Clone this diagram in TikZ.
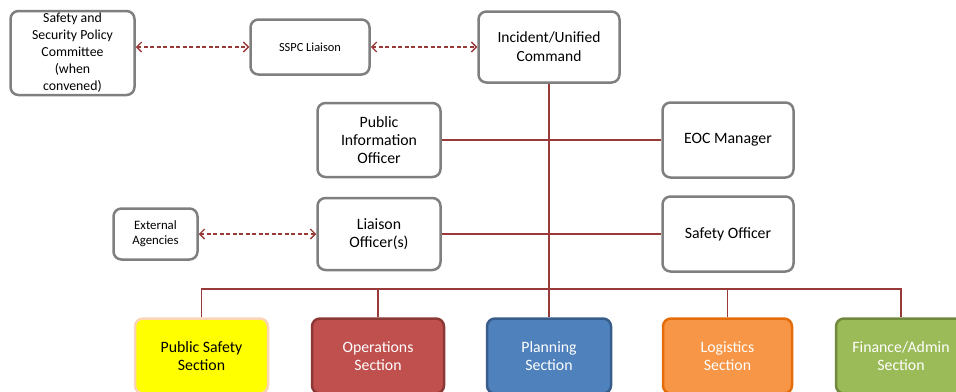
\documentclass[tikz,border=0pt]{standalone}
\usepackage{fontspec}
\setmainfont{Carlito}
\usetikzlibrary{arrows.meta}
\definecolor{boxgray}{HTML}{7F7F7F}
\definecolor{linered}{HTML}{983A38}
\definecolor{psfill}{HTML}{FFFF00}
\definecolor{psdraw}{HTML}{FBD5B5}
\definecolor{opfill}{HTML}{C0504D}
\definecolor{opdraw}{HTML}{8C3836}
\definecolor{plfill}{HTML}{4F81BD}
\definecolor{pldraw}{HTML}{385D8A}
\definecolor{lgfill}{HTML}{F79646}
\definecolor{lgdraw}{HTML}{E46C0A}
\definecolor{fnfill}{HTML}{9BBB59}
\definecolor{fndraw}{HTML}{71893F}
\begin{document}
\begin{tikzpicture}[x=1pt,y=-1pt,
  box/.style={draw=boxgray,line width=2.5pt,rounded corners=8pt,fill=white,align=center,inner sep=0pt,text=black},
  bigtext/.style={font=\fontsize{15.8}{18.5}\selectfont},
  section/.style={box,bigtext,minimum height=75pt,text=white},
  link/.style={draw=linered,line width=1.3pt},
  dlink/.style={link,line width=1.4pt,dash pattern=on 4pt off 2.5pt,{Straight Barb[length=5pt,width=10pt]}-{Straight Barb[length=5pt,width=10pt]}},
]
\useasboundingbox (0,0) rectangle (956,391);

% top row
\node[box,minimum width=124pt,minimum height=84pt,font=\fontsize{13.8}{17}\selectfont] (ssp) at (72.5,53) {Safety and\\Security Policy\\Committee\\(when\\convened)};
\node[box,minimum width=119pt,minimum height=55pt,font=\fontsize{12.4}{14}\selectfont] (sspcl) at (310,47) {SSPC Liaison};
\node[box,minimum width=141pt,minimum height=71pt,font=\fontsize{15.5}{19}\selectfont] (inc) at (549,47) {Incident/Unified\\Command};

% staff
\node[box,bigtext,minimum width=123pt,minimum height=74pt,font=\fontsize{15.8}{18}\selectfont] (pio) at (379,140) {Public\\Information\\Officer};
\node[box,bigtext,minimum width=131pt,minimum height=75pt] (eoc) at (728,140) {EOC Manager};
\node[box,bigtext,minimum width=123pt,minimum height=72pt] (lia) at (379,234) {Liaison\\Officer(s)};
\node[box,bigtext,minimum width=131pt,minimum height=75pt] (saf) at (728,234) {Safety Officer};
\node[box,minimum width=84pt,minimum height=51pt,font=\fontsize{12.8}{15}\selectfont] (ext) at (155.5,234) {External\\Agencies};

% sections
\node[section,fill=psfill,draw=psdraw,text=black,minimum width=133pt] (psafe) at (201.5,356) {Public Safety\\Section};
\node[section,fill=opfill,draw=opdraw,minimum width=132pt] (ops) at (378,356) {Operations\\Section};
\node[section,fill=plfill,draw=pldraw,minimum width=124pt] (plan) at (549,356) {Planning\\Section};
\node[section,fill=lgfill,draw=lgdraw,minimum width=129pt] (log) at (727.5,356) {Logistics\\Section};
\node[section,fill=fnfill,draw=fndraw,minimum width=130pt] (fin) at (901,356) {Finance/Admin\\Section};

% dashed links
\draw[dlink] (sspcl.west -| ssp.east) -- (sspcl.west);
\draw[dlink] (sspcl.east) -- (inc.west);
\draw[dlink] (ext.east) -- (lia.west);

% solid links
\coordinate (bus) at (549,289);
\draw[link] (inc.south) -- (plan.north);
\draw[link] (pio.east) -- (eoc.west);
\draw[link] (lia.east) -- (saf.west);
\draw[link] (psafe.north) |- (bus) -| (fin.north);
\draw[link] (ops.north) -- (ops.north |- bus);
\draw[link] (log.north) -- (log.north |- bus);
\end{tikzpicture}
\end{document}
